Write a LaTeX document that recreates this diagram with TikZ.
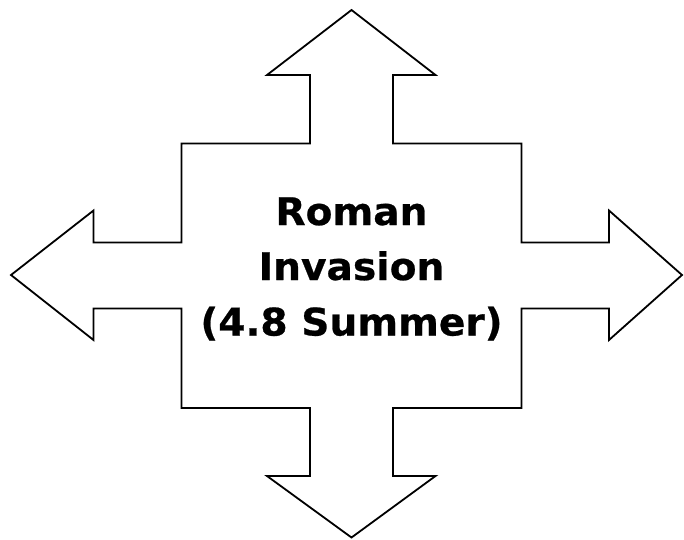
\documentclass[tikz,border=0pt]{standalone}
\usepackage{fontspec}
\setmainfont{DejaVu Sans}[BoldFeatures={FakeBold=0.6}]
\begin{document}
\begin{tikzpicture}[x=1pt,y=-1pt,
  shapeline/.style={draw=black,line width=1.8pt,line join=miter,fill=white},
  lbl/.style={anchor=base,inner sep=0pt,xscale=1.03,font=\fontsize{38}{44}\selectfont\bfseries}]
\useasboundingbox (0,0) rectangle (684,539);
\draw[shapeline] (351.5,10) -- (435.5,75) -- (393,75) -- (393,143.5) -- (521.5,143.5)
  -- (521.5,242.5) -- (609,242.5) -- (609,210.5) -- (682,275) -- (609,340) -- (609,308.5)
  -- (521.5,308.5) -- (521.5,408) -- (393,408) -- (393,476) -- (435.5,476) -- (351.5,537.5)
  -- (267,476) -- (310,476) -- (310,408) -- (181.5,408) -- (181.5,308.5) -- (93.5,308.5)
  -- (93.5,340) -- (11,275) -- (93.5,210.5) -- (93.5,242.5) -- (181.5,242.5) -- (181.5,143.5)
  -- (310,143.5) -- (310,75) -- (267,75) -- cycle;
\node[lbl] (t1) at (351.5,225) {Roman};
\node[lbl] (t2) at (351.5,280) {Invasion};
\node[lbl] (t3) at (351.5,335.5) {(4.8 Summer)};
\end{tikzpicture}
\end{document}
